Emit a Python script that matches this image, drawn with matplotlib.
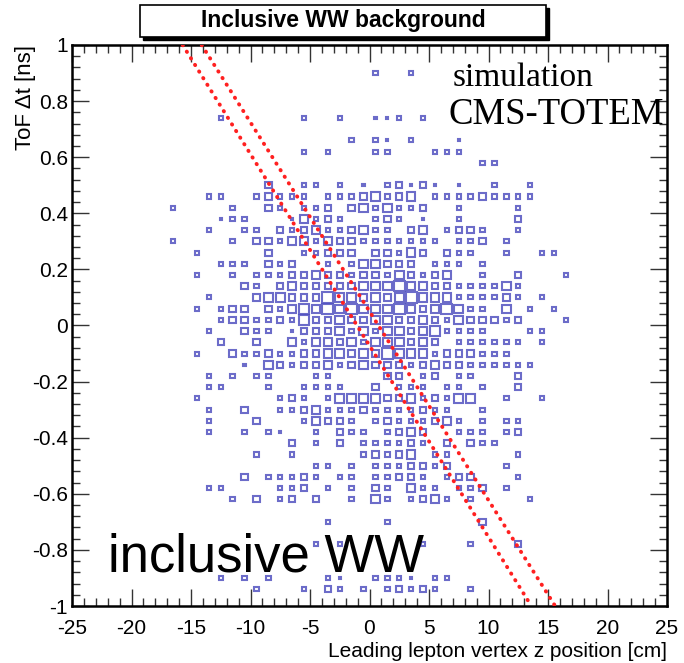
import numpy as np
import matplotlib
matplotlib.use("Agg")
import matplotlib.pyplot as plt
from matplotlib.patches import Rectangle
from matplotlib.ticker import MultipleLocator, FuncFormatter

# ---------------- data ----------------
title = "Inclusive WW background"
x_label = "Leading lepton vertex z position [cm]"
y_label = "ToF \u0394t [ns]"
label_sim = "simulation"
label_exp = "CMS-TOTEM"
label_sample = "inclusive WW"

# histogram binning: 1 cm in z, 0.04 ns in ToF
z_edges_shown = np.arange(-18, 19, 1.0)          # 36 columns, centres -17.5 .. 17.5
tof_row_centres = np.round(np.arange(0.98, -1.0, -0.04), 2)  # 50 rows, 0.98 .. -0.98

# box content per cell (0 = empty), one string per ToF row, columns z = -17.5 .. 17.5
rows = [
    "...... ...... ...... ...... ...... ......",  # 0.98
    "...... ...... ...... ...... ...... ......",  # 0.94
    "...... ...... ...... 2..2.. ...... ......",  # 0.90
    "...... ...... ...... ...... ...... ......",  # 0.86
    "...... ...... ...... ...... ...... ......",  # 0.82
    "...... ...... ...... ...... ...... ......",  # 0.78
    ".....2 ...... 2..2.. 112.2. ...... ......",  # 0.74
    "...... ...... ...... ...... ...... ......",  # 0.70
    "...... ...... ....2. 21.2.. .1.... ......",  # 0.66
    "...... ...... 2.2... 22...2 22.... ......",  # 0.62
    "...... ...... ...... ...... ...22. ......",  # 0.58
    "...... ...... ...... ...... ...... ......",  # 0.54
    "...... ...3.. 22.2.1 .23131 .1..2. .2....",  # 0.50
    "....22 ..2322 2.2223 4234.2 222322 22....",  # 0.46
    ".2.... 2..32. 223.34 24223. .2.... 2.....",  # 0.42
    ".....1 22...1 4232.. 232.1. .2.... 3.....",  # 0.38
    "....2. .22.32 342234 22.34. 2332.. 2.....",  # 0.34
    ".2.... 2.3324 424332 222222 .223.2 ......",  # 0.30
    "...2.. ...3.. 22333. 33243. 322..2 ..22..",  # 0.26
    ".....2 22.323 ..2.24 4333.2 22.2.. ......",  # 0.22
    "...2.. 2.2223 343323 324323 4..2.. 3...2.",  # 0.18
    "...... .32.34 333334 445443 322224 2.....",  # 0.14
    "....2. ..3443 335443 434544 422223 2.2...",  # 0.10
    "...2.2 33.324 545454 445434 5422.4 .2.2..",  # 0.06
    ".....2 332232 533433 443343 243332 3...2.",  # 0.02
    "....2. .322.1 333424 244345 2222.. .22...",  # -0.02
    ".....3 ..3..4 244342 444343 .22222 2.2...",  # -0.06
    "...2.. 322322 334434 354442 333222 ......",  # -0.10
    "...... .1.432 334234 333234 332222 22....",  # -0.14
    "....2. 2.22.. .22... .33.23 .22... 3.....",  # -0.18
    "....22 ...2.. 2222.. 3.222. 22.2.. 3.....",  # -0.22
    "...2.. ....23 2.2444 433423 244..2 ..2...",  # -0.26
    "....2. .3..22 342223 222232 2..2.. ......",  # -0.30
    "....2. ..3... 24332. 232223 42.2.2 2.....",  # -0.34
    "....2. .2.21. .2.322 .2343. .222.2 3.....",  # -0.38
    "...... .....3 .2.3.2 22232. 3.322. ......",  # -0.42
    "...... ..2..2 .....2 3234.2 2..... 2.....",  # -0.46
    "...... ...... .22.2. 222332 3....2 ......",  # -0.50
    "...... .3.222 32.22. 22332. 233... 2.....",  # -0.54
    "....22 ....22 3.2.2. 32.422 .223.2 ......",  # -0.58
    "...... 2.3.23 .3..2. 42.234 2.2... .2....",  # -0.62
    "...... ...... ...... ...... ...... ......",  # -0.66
    "...... ...... ..2... .2.... ...3.. ......",  # -0.70
    "...... ...... ...... ...... ...... ......",  # -0.74
    "...... ...... .2.2.. ....2. ..2... 3.....",  # -0.78
    "...... ...... ...... ...... ...... ......",  # -0.82
    "...... ...... ...... ...... ...... ......",  # -0.86
    ".....2 .2.2.. ..21.. 2221.2 2..... ......",  # -0.90
    "...... ..2... 2.32.2 .23232 ..2... ......",  # -0.94
    "...... ...... ...... ...... ...... ......",  # -0.98
]
max_content = 5.5

# selection band (dotted red lines): z at ToF = +1 and ToF = -1
band_z_at_top = [-15.7, -14.1]
band_z_at_bottom = [13.6, 15.6]
band_tof = [1.0, -1.0]

# ---------------- figure ----------------
W, H = 684, 663
fig = plt.figure(figsize=(W / 100, H / 100), dpi=100)
left_px, right_px, top_px, bottom_px = 72, 667, 45, 606
ax = fig.add_axes([left_px / W, 1 - bottom_px / H,
                   (right_px - left_px) / W, (bottom_px - top_px) / H])

ax.set_xlim(-25, 25)
ax.set_ylim(-1, 1)

z_centres = 0.5 * (z_edges_shown[:-1] + z_edges_shown[1:])
dz, dt = 1.0, 0.04
box_color = "#5252c0"
for yc, row in zip(tof_row_centres, rows):
    s = row.replace(" ", "")
    for xc, ch in zip(z_centres, s):
        if ch == ".":
            continue
        frac = int(ch) / max_content
        w, h = dz * frac, dt * frac
        ax.add_patch(Rectangle((xc - w / 2, yc - h / 2), w, h, fill=False,
                               edgecolor=box_color, linewidth=1.5, alpha=0.85))

for zt, zb in zip(band_z_at_top, band_z_at_bottom):
    ax.plot([zt, zb], band_tof, color="#ff2020", linewidth=2.8,
            linestyle=(0, (0.1, 1.9)), dash_capstyle="round", zorder=5)

# axes styling
for sp in ax.spines.values():
    sp.set_linewidth(1.8)
ax.xaxis.set_major_locator(MultipleLocator(5))
ax.xaxis.set_minor_locator(MultipleLocator(1))
ax.yaxis.set_major_locator(MultipleLocator(0.2))
ax.yaxis.set_minor_locator(MultipleLocator(0.04))
fmt = FuncFormatter(lambda v, p: ("%g" % round(v, 3)) if abs(v) > 1e-9 else "0")
ax.xaxis.set_major_formatter(fmt)
ax.yaxis.set_major_formatter(fmt)
ax.tick_params(which="both", direction="in", top=True, right=True, color="#333333")
ax.tick_params(which="major", length=12.5, width=1.0)
ax.tick_params(which="minor", length=6.0, width=1.0)
ax.tick_params(axis="x", which="major", labelsize=15, pad=9)
ax.tick_params(axis="y", which="major", labelsize=15, pad=3)
for lab in ax.get_xticklabels() + ax.get_yticklabels():
    lab.set_fontfamily("Liberation Sans")

ax.set_xlabel(x_label, fontsize=15, family="Liberation Sans", loc="right", labelpad=3)
ax.set_ylabel(y_label, fontsize=16, family="Liberation Sans", loc="top", labelpad=-3)

# text annotations
fig.text(453 / W, 1 - 86 / H, label_sim, fontsize=24, family="Liberation Serif",
         ha="left", va="baseline")
fig.text(448 / W, 1 - 124 / H, label_exp, fontsize=26.5, family="Liberation Serif",
         ha="left", va="baseline")
fig.text(108 / W, 1 - 572 / H, label_sample, fontsize=38, family="Liberation Sans",
         ha="left", va="baseline")

# title box with shadow
bx0, bx1, by0, by1 = 140, 546, 5, 37
fig.patches.append(Rectangle(((bx0 + 3) / W, 1 - (by1 + 3) / H), (bx1 - bx0) / W,
                             (by1 - by0) / H, transform=fig.transFigure,
                             facecolor="black", edgecolor="black", zorder=1))
fig.patches.append(Rectangle((bx0 / W, 1 - by1 / H), (bx1 - bx0) / W,
                             (by1 - by0) / H, transform=fig.transFigure,
                             facecolor="white", edgecolor="black", linewidth=1.2, zorder=2))
fig.text((bx0 + bx1) / 2 / W, 1 - (by0 + by1) / 2 / H, title, fontsize=16.5,
         family="Liberation Sans", weight="bold", ha="center", va="center", zorder=3)

fig.savefig("out.png", dpi=100)
